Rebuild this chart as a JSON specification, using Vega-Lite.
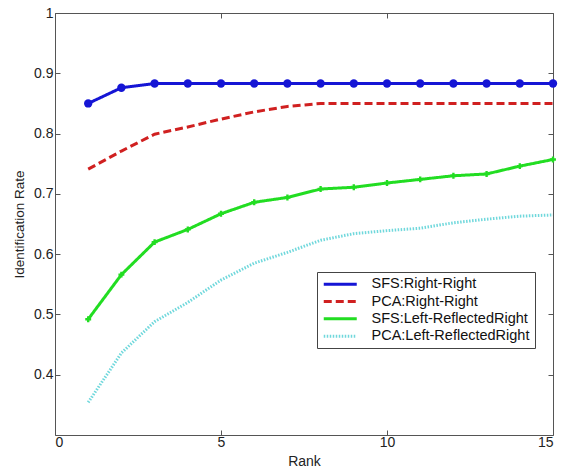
{
  "$schema": "https://vega.github.io/schema/vega-lite/v6.json",
  "width": 498,
  "height": 422,
  "autosize": "none",
  "padding": {"left": 55, "top": 13, "right": 8, "bottom": 39},
  "background": "white",
  "config": {
    "font": "Liberation Sans",
    "view": {"stroke": "#555555", "strokeWidth": 1},
    "axis": {"grid": false, "domain": false, "tickColor": "#555555", "labelColor": "#222222", "titleColor": "#222222", "labelFont": "Liberation Sans", "titleFont": "Liberation Sans", "labelFontSize": 14, "titleFontSize": 14, "titleFontWeight": "normal"},
    "legend": {"labelFont": "Liberation Sans", "labelFontSize": 15, "labelColor": "#111111", "labelLimit": 400}
  },
  "data": {
    "values": [
      {"rank": 1, "rate": 0.850, "series": "SFS:Right-Right"},
      {"rank": 2, "rate": 0.876, "series": "SFS:Right-Right"},
      {"rank": 3, "rate": 0.883, "series": "SFS:Right-Right"},
      {"rank": 4, "rate": 0.883, "series": "SFS:Right-Right"},
      {"rank": 5, "rate": 0.883, "series": "SFS:Right-Right"},
      {"rank": 6, "rate": 0.883, "series": "SFS:Right-Right"},
      {"rank": 7, "rate": 0.883, "series": "SFS:Right-Right"},
      {"rank": 8, "rate": 0.883, "series": "SFS:Right-Right"},
      {"rank": 9, "rate": 0.883, "series": "SFS:Right-Right"},
      {"rank": 10, "rate": 0.883, "series": "SFS:Right-Right"},
      {"rank": 11, "rate": 0.883, "series": "SFS:Right-Right"},
      {"rank": 12, "rate": 0.883, "series": "SFS:Right-Right"},
      {"rank": 13, "rate": 0.883, "series": "SFS:Right-Right"},
      {"rank": 14, "rate": 0.883, "series": "SFS:Right-Right"},
      {"rank": 15, "rate": 0.883, "series": "SFS:Right-Right"},
      {"rank": 1, "rate": 0.741, "series": "PCA:Right-Right"},
      {"rank": 2, "rate": 0.771, "series": "PCA:Right-Right"},
      {"rank": 3, "rate": 0.799, "series": "PCA:Right-Right"},
      {"rank": 4, "rate": 0.811, "series": "PCA:Right-Right"},
      {"rank": 5, "rate": 0.824, "series": "PCA:Right-Right"},
      {"rank": 6, "rate": 0.836, "series": "PCA:Right-Right"},
      {"rank": 7, "rate": 0.845, "series": "PCA:Right-Right"},
      {"rank": 8, "rate": 0.850, "series": "PCA:Right-Right"},
      {"rank": 9, "rate": 0.850, "series": "PCA:Right-Right"},
      {"rank": 10, "rate": 0.850, "series": "PCA:Right-Right"},
      {"rank": 11, "rate": 0.850, "series": "PCA:Right-Right"},
      {"rank": 12, "rate": 0.850, "series": "PCA:Right-Right"},
      {"rank": 13, "rate": 0.850, "series": "PCA:Right-Right"},
      {"rank": 14, "rate": 0.850, "series": "PCA:Right-Right"},
      {"rank": 15, "rate": 0.850, "series": "PCA:Right-Right"},
      {"rank": 1, "rate": 0.492, "series": "SFS:Left-ReflectedRight"},
      {"rank": 2, "rate": 0.566, "series": "SFS:Left-ReflectedRight"},
      {"rank": 3, "rate": 0.620, "series": "SFS:Left-ReflectedRight"},
      {"rank": 4, "rate": 0.641, "series": "SFS:Left-ReflectedRight"},
      {"rank": 5, "rate": 0.667, "series": "SFS:Left-ReflectedRight"},
      {"rank": 6, "rate": 0.686, "series": "SFS:Left-ReflectedRight"},
      {"rank": 7, "rate": 0.694, "series": "SFS:Left-ReflectedRight"},
      {"rank": 8, "rate": 0.708, "series": "SFS:Left-ReflectedRight"},
      {"rank": 9, "rate": 0.711, "series": "SFS:Left-ReflectedRight"},
      {"rank": 10, "rate": 0.718, "series": "SFS:Left-ReflectedRight"},
      {"rank": 11, "rate": 0.724, "series": "SFS:Left-ReflectedRight"},
      {"rank": 12, "rate": 0.730, "series": "SFS:Left-ReflectedRight"},
      {"rank": 13, "rate": 0.733, "series": "SFS:Left-ReflectedRight"},
      {"rank": 14, "rate": 0.746, "series": "SFS:Left-ReflectedRight"},
      {"rank": 15, "rate": 0.757, "series": "SFS:Left-ReflectedRight"},
      {"rank": 1, "rate": 0.354, "series": "PCA:Left-ReflectedRight"},
      {"rank": 2, "rate": 0.436, "series": "PCA:Left-ReflectedRight"},
      {"rank": 3, "rate": 0.488, "series": "PCA:Left-ReflectedRight"},
      {"rank": 4, "rate": 0.520, "series": "PCA:Left-ReflectedRight"},
      {"rank": 5, "rate": 0.557, "series": "PCA:Left-ReflectedRight"},
      {"rank": 6, "rate": 0.585, "series": "PCA:Left-ReflectedRight"},
      {"rank": 7, "rate": 0.603, "series": "PCA:Left-ReflectedRight"},
      {"rank": 8, "rate": 0.623, "series": "PCA:Left-ReflectedRight"},
      {"rank": 9, "rate": 0.634, "series": "PCA:Left-ReflectedRight"},
      {"rank": 10, "rate": 0.639, "series": "PCA:Left-ReflectedRight"},
      {"rank": 11, "rate": 0.643, "series": "PCA:Left-ReflectedRight"},
      {"rank": 12, "rate": 0.652, "series": "PCA:Left-ReflectedRight"},
      {"rank": 13, "rate": 0.658, "series": "PCA:Left-ReflectedRight"},
      {"rank": 14, "rate": 0.663, "series": "PCA:Left-ReflectedRight"},
      {"rank": 15, "rate": 0.665, "series": "PCA:Left-ReflectedRight"}
    ]
  },
  "resolve": {"axis": {"x": "independent", "y": "independent"}},
  "layer": [
    {
      "mark": {"type": "line", "strokeCap": "butt"},
      "encoding": {
        "x": {"field": "rank", "type": "quantitative", "scale": {"domain": [0, 15], "nice": false},
              "axis": {"orient": "bottom", "title": "Rank", "values": [0, 5, 10, 15], "tickSize": -5, "labelPadding": 5, "titlePadding": 5, "labelFontSize": 14, "titleFontSize": 14}},
        "y": {"field": "rate", "type": "quantitative", "scale": {"domain": [0.3, 1], "nice": false, "zero": false},
              "axis": {"orient": "left", "title": "Identification Rate", "values": [0.4, 0.5, 0.6, 0.7, 0.8, 0.9, 1], "format": "~g", "tickSize": -5, "labelPadding": 7, "titlePadding": 7, "labelFontSize": 14, "titleFontSize": 13.5}},
        "color": {"field": "series", "type": "nominal",
                  "scale": {"domain": ["SFS:Right-Right", "PCA:Right-Right", "SFS:Left-ReflectedRight", "PCA:Left-ReflectedRight"],
                            "range": ["#1515d5", "#d02020", "#22dd22", "#70d8dc"]},
                  "legend": {"title": null, "orient": "none", "legendX": 262, "legendY": 259, "symbolType": "M-3,0L3,0", "symbolSize": 121, "symbolStrokeWidth": 2.5, "symbolOffset": 11, "strokeColor": "#444444", "fillColor": "white", "padding": 5, "rowPadding": 2.3, "labelOffset": 24, "labelFontSize": 14.5}},
        "strokeDash": {"field": "series", "type": "nominal",
                       "scale": {"domain": ["SFS:Right-Right", "PCA:Right-Right", "SFS:Left-ReflectedRight", "PCA:Left-ReflectedRight"],
                                 "range": [[1, 0], [8, 4], [1, 0], [1.5, 1.5]]}},
        "strokeWidth": {"field": "series", "type": "nominal",
                        "scale": {"domain": ["SFS:Right-Right", "PCA:Right-Right", "SFS:Left-ReflectedRight", "PCA:Left-ReflectedRight"],
                                  "range": [3, 3, 3, 2.5]}, "legend": null}
      }
    },
    {
      "transform": [{"filter": "datum.series === 'SFS:Right-Right' || datum.series === 'SFS:Left-ReflectedRight'"}],
      "mark": {"type": "point", "filled": true, "opacity": 1},
      "encoding": {
        "x": {"field": "rank", "type": "quantitative", "scale": {"domain": [0, 15], "nice": false},
              "axis": {"orient": "top", "title": null, "labels": false, "values": [0, 5, 10, 15], "tickSize": -5}},
        "y": {"field": "rate", "type": "quantitative", "scale": {"domain": [0.3, 1], "nice": false, "zero": false},
              "axis": {"orient": "right", "title": null, "labels": false, "values": [0.4, 0.5, 0.6, 0.7, 0.8, 0.9, 1], "tickSize": -5}},
        "color": {"condition": {"test": "datum.series === 'SFS:Right-Right'", "value": "#1515d5"}, "value": "#22dd22"},
        "shape": {"condition": {"test": "datum.series === 'SFS:Right-Right'", "value": "circle"}, "value": "cross"},
        "size": {"condition": {"test": "datum.series === 'SFS:Right-Right'", "value": 70}, "value": 35}
      }
    }
  ]
}
